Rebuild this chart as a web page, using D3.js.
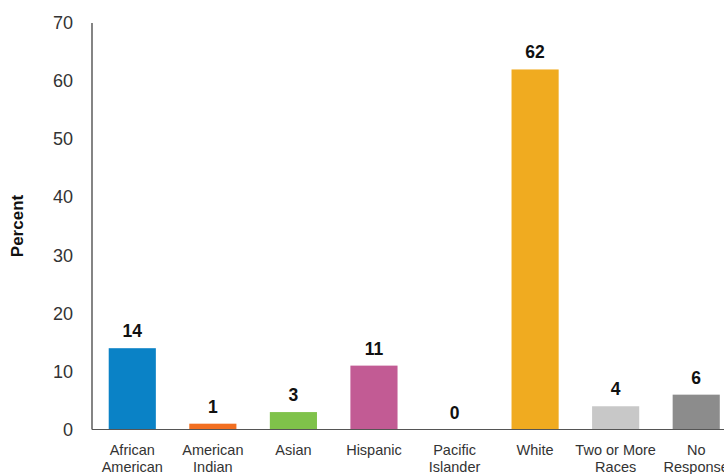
<!DOCTYPE html>
<html>
<head>
<meta charset="utf-8">
<script src="https://cdn.jsdelivr.net/npm/d3@7"></script>
<style>
  html, body { margin: 0; padding: 0; background: #fff; }
  svg { display: block; font-family: "Liberation Sans", Arial, sans-serif; }
</style>
</head>
<body>
<svg id="chart" width="724" height="474"></svg>
<script>
// Share of respondents by race/ethnicity
const categories = [
  ["African", "American"],
  ["American", "Indian"],
  ["Asian"],
  ["Hispanic"],
  ["Pacific", "Islander"],
  ["White"],
  ["Two or More", "Races"],
  ["No", "Response"]
];
const values = [14, 1, 3, 11, 0, 62, 4, 6];
const colors = ["#0a82c6", "#f26f21", "#7fc24a", "#c25b94", "#c8c8c8", "#f0ab20", "#c8c8c8", "#8c8c8c"];
const yTicks = [0, 10, 20, 30, 40, 50, 60, 70];

const svg = d3.select("#chart");
const keys = categories.map(c => c.join(" "));

const x = d3.scaleBand()
  .domain(keys)
  .range([92, 736.5])
  .paddingInner(0.415)
  .paddingOuter(0.2075);

const y = d3.scaleLinear().domain([0, 70]).range([429.5, 23]);

// Y axis: labels only, plus a plain vertical rule
const yAxis = d3.axisLeft(y).tickValues(yTicks).tickSize(0).tickPadding(19);
const gy = svg.append("g").attr("transform", "translate(92,0)").call(yAxis);
gy.select(".domain").remove();
gy.selectAll("text")
  .attr("fill", "#333")
  .style("font-size", "18px")
  .style("font-family", "'Liberation Sans', Arial, sans-serif");

svg.append("line")
  .attr("x1", 92).attr("x2", 92)
  .attr("y1", y(70)).attr("y2", y(0))
  .attr("stroke", "#333").attr("stroke-width", 1.2);

// Bars
svg.append("g").selectAll("rect")
  .data(values)
  .join("rect")
  .attr("x", (d, i) => x(keys[i]))
  .attr("y", d => y(d))
  .attr("width", x.bandwidth())
  .attr("height", d => y(0) - y(d))
  .attr("fill", (d, i) => colors[i]);

// Baseline
svg.append("line")
  .attr("x1", 92).attr("x2", 724)
  .attr("y1", y(0)).attr("y2", y(0))
  .attr("stroke", "#555").attr("stroke-width", 1.2);

// Value labels above bars
svg.append("g").selectAll("text")
  .data(values)
  .join("text")
  .attr("x", (d, i) => x(keys[i]) + x.bandwidth() / 2)
  .attr("y", d => y(d) - 11)
  .attr("text-anchor", "middle")
  .attr("font-weight", "bold")
  .attr("font-size", "17.5px")
  .attr("fill", "#111")
  .text(d => d);

// Category labels (two lines where needed)
const xl = svg.append("g").selectAll("text")
  .data(categories)
  .join("text")
  .attr("text-anchor", "middle")
  .attr("font-size", "14.5px")
  .attr("fill", "#333");
xl.each(function(lines, i) {
  const cx = x(keys[i]) + x.bandwidth() / 2;
  d3.select(this).selectAll("tspan")
    .data(lines)
    .join("tspan")
    .attr("x", cx)
    .attr("y", (l, j) => 455 + j * 17)
    .text(l => l);
});

// Y axis title
svg.append("text")
  .attr("transform", "translate(23,226) rotate(-90)")
  .attr("text-anchor", "middle")
  .attr("font-weight", "bold")
  .attr("font-size", "17px")
  .attr("fill", "#111")
  .text("Percent");
</script>
</body>
</html>
